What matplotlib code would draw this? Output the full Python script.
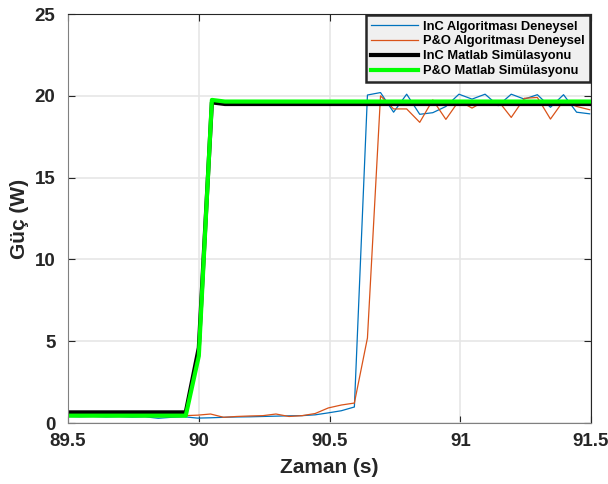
import numpy as np
import matplotlib
matplotlib.use("Agg")
import matplotlib.pyplot as plt

plt.rcParams["font.family"] = ["Liberation Sans", "DejaVu Sans"]
plt.rcParams["font.weight"] = "bold"

# experimental samples (0.05 s step)
t_exp = np.round(np.arange(89.495, 91.5, 0.05), 3)
inc_exp = [0.40, 0.38, 0.40, 0.37, 0.39, 0.36, 0.38, 0.29, 0.35, 0.38, 0.30, 0.32,
           0.35, 0.37, 0.38, 0.40, 0.42, 0.44, 0.45, 0.50, 0.62, 0.75, 0.98,
           20.05, 20.2, 19.0, 20.1, 18.87, 18.97, 19.35, 20.1, 19.8, 20.1, 19.4,
           20.1, 19.8, 20.07, 19.3, 20.07, 19.0, 18.9]
po_exp = [0.45, 0.45, 0.45, 0.45, 0.45, 0.45, 0.45, 0.45, 0.45, 0.45, 0.48, 0.55,
          0.35, 0.40, 0.43, 0.45, 0.55, 0.40, 0.45, 0.58, 0.92, 1.10, 1.22,
          5.2, 20.0, 19.2, 19.2, 18.38, 19.75, 18.56, 19.7, 19.25, 19.7, 19.7,
          18.68, 19.85, 19.9, 18.58, 19.7, 19.35, 19.15]

# simulation curves
t_sim = [89.5, 89.95, 90.0, 90.05, 90.1, 91.5]
inc_sim = [0.65, 0.65, 4.6, 19.6, 19.5, 19.5]
po_sim = [0.45, 0.45, 4.1, 19.75, 19.65, 19.65]

labels = ["InC Algoritması Deneysel", "P&O Algoritması Deneysel",
          "InC Matlab Simülasyonu", "P&O Matlab Simülasyonu"]

fig = plt.figure(figsize=(6.08, 4.84), dpi=100)
ax = fig.add_axes([0.112, 0.126, 0.860, 0.845])

ax.plot(t_exp, inc_exp, color="#0072BD", lw=0.9, label=labels[0])
ax.plot(t_exp, po_exp, color="#D95319", lw=0.9, label=labels[1])
ax.plot(t_sim, inc_sim, color="black", lw=3, label=labels[2])
ax.plot(t_sim, po_sim, color="#00FF00", lw=3, label=labels[3])

ax.set_xlim(89.5, 91.5)
ax.set_ylim(0, 25)
ax.set_xticks([89.5, 90, 90.5, 91, 91.5])
ax.set_xticklabels(["89.5", "90", "90.5", "91", "91.5"])
ax.set_yticks([0, 5, 10, 15, 20, 25])
ax.tick_params(direction="in", top=True, right=True, labelsize=13.5,
               length=5, width=0.8, color="#262626", labelcolor="#262626")
ax.tick_params(axis="x", pad=7)
ax.tick_params(axis="y", pad=9)
ax.grid(True, color="#e6e6e6", lw=1.2)
ax.set_axisbelow(True)
for s in ["left", "bottom"]:
    ax.spines[s].set_color("#808080")
for s in ["top", "right"]:
    ax.spines[s].set_color("#262626")

ax.set_xlabel("Zaman (s)", fontsize=15, fontweight="bold", color="#262626", labelpad=6)
ax.set_ylabel("Güç (W)", fontsize=15, fontweight="bold", color="#262626", labelpad=4)

leg = ax.legend(loc="upper right", fontsize=9.3, borderaxespad=0.1,
                handlelength=3.6, handletextpad=0.4, labelspacing=0.22,
                fancybox=False, framealpha=1, borderpad=0.4)
leg.get_frame().set_facecolor("#f0f0f0")
leg.get_frame().set_edgecolor("#262626")
leg.get_frame().set_linewidth(1.8)
for txt in leg.get_texts():
    txt.set_fontweight("bold")

fig.savefig("out.png", dpi=100)
